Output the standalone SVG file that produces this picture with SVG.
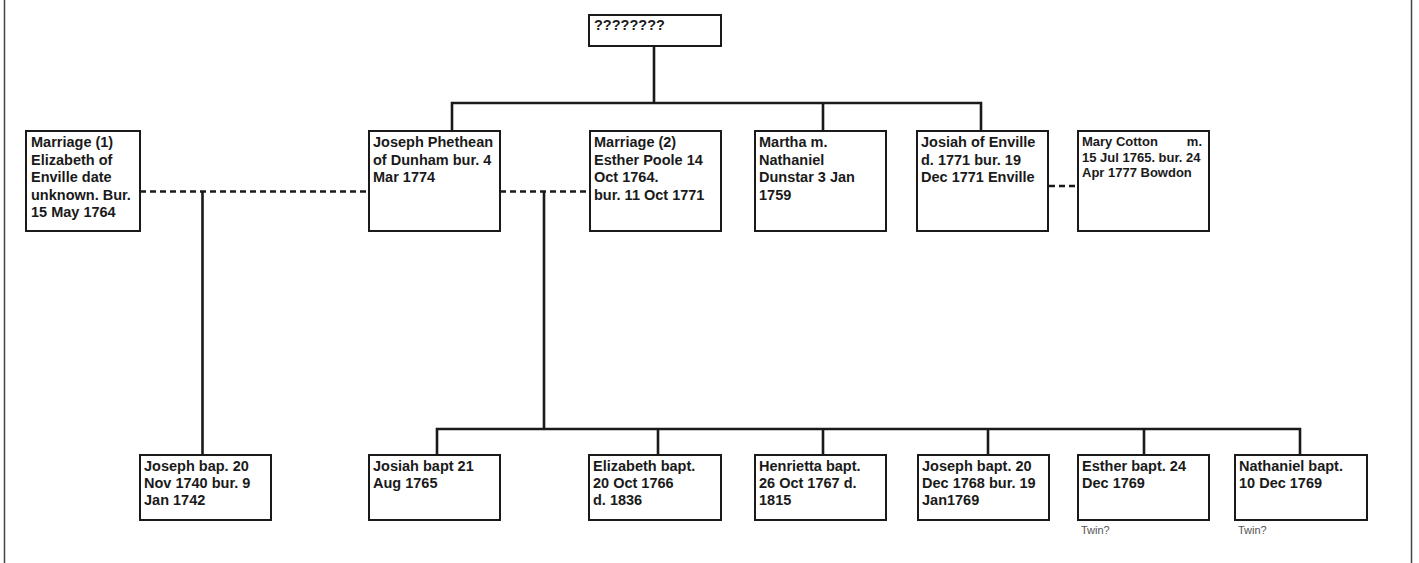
<svg xmlns="http://www.w3.org/2000/svg" width="1419" height="563" viewBox="0 0 1419 563">
<style>
.box{fill:#fff;stroke:#1a1a1a;stroke-width:2}
.t{font-family:"Liberation Sans",Arial,Helvetica,sans-serif;font-weight:bold;font-size:14.5px;fill:#1a1a1a}
.s{font-family:"Liberation Sans",Arial,Helvetica,sans-serif;font-weight:bold;font-size:13px;fill:#1a1a1a}
.tw{font-family:"Liberation Sans",Arial,Helvetica,sans-serif;font-size:11px;fill:#555}
.ln{stroke:#1a1a1a;stroke-width:2.6;fill:none}
.dash{stroke:#1a1a1a;stroke-width:2.6;fill:none;stroke-dasharray:6 4}
.frame{stroke:#444;stroke-width:1.5}
</style>
<rect width="1419" height="563" fill="#fff"/>
<line class="frame" x1="4.5" y1="0" x2="4.5" y2="563"/>
<line class="frame" x1="1411.5" y1="0" x2="1411.5" y2="563"/>
<g id="connectors">
<path class="ln" d="M654 46 V103 M452 131 V103 H981 V131 M823 103 V131"/>
<path class="dash" d="M140 191.5 H369 M500 191.5 H590 M1049 186 H1078"/>
<path class="ln" d="M202.5 191.5 V455 M544 191.5 V429 M437 455 V429 H1300 V455 M658 429 V455 M823 429 V455 M988 429 V455 M1144 429 V455"/>
</g>
<g id="n_root"><rect class="box" x="589" y="15" width="132" height="31"/><text class="t" x="594" y="30">????????</text></g>
<g id="n_m1"><rect class="box" x="26" y="131" width="114" height="100"/><text class="t" x="31" y="147">Marriage (1)<tspan x="31" dy="17.5">Elizabeth of</tspan><tspan x="31" dy="17.5">Enville date</tspan><tspan x="31" dy="17.5">unknown. Bur.</tspan><tspan x="31" dy="17.5">15 May 1764</tspan></text></g>
<g id="n_joseph"><rect class="box" x="369" y="131" width="131" height="100"/><text class="t" x="373" y="147">Joseph Phethean<tspan x="373" dy="17.5">of Dunham bur. 4</tspan><tspan x="373" dy="17.5">Mar 1774</tspan></text></g>
<g id="n_m2"><rect class="box" x="590" y="131" width="131" height="100"/><text class="t" x="594" y="147">Marriage (2)<tspan x="594" dy="17.5">Esther Poole 14</tspan><tspan x="594" dy="17.5">Oct 1764.</tspan><tspan x="594" dy="17.5">bur. 11 Oct 1771</tspan></text></g>
<g id="n_martha"><rect class="box" x="755" y="131" width="131" height="100"/><text class="t" x="759" y="147">Martha m.<tspan x="759" dy="17.5">Nathaniel</tspan><tspan x="759" dy="17.5">Dunstar 3 Jan</tspan><tspan x="759" dy="17.5">1759</tspan></text></g>
<g id="n_josiah"><rect class="box" x="917" y="131" width="131" height="100"/><text class="t" x="921" y="147">Josiah of Enville<tspan x="921" dy="17.5">d. 1771 bur. 19</tspan><tspan x="921" dy="17.5">Dec 1771 Enville</tspan></text></g>
<g id="n_mary"><rect class="box" x="1078" y="131" width="131" height="100"/><text class="s" x="1082" y="146">Mary Cotton</text><text class="s" x="1202" y="146" text-anchor="end">m.</text><text class="s" x="1082" y="161.5">15 Jul 1765. bur. 24<tspan x="1082" dy="15.5">Apr 1777 Bowdon</tspan></text></g>
<g id="n_c0"><rect class="box" x="140" y="455" width="131" height="65"/><text class="t" x="144" y="471">Joseph bap. 20<tspan x="144" dy="17">Nov 1740 bur. 9</tspan><tspan x="144" dy="17">Jan 1742</tspan></text></g>
<g id="n_c1"><rect class="box" x="369" y="455" width="131" height="65"/><text class="t" x="373" y="471">Josiah bapt 21<tspan x="373" dy="17">Aug 1765</tspan></text></g>
<g id="n_c2"><rect class="box" x="589" y="455" width="132" height="65"/><text class="t" x="593" y="471">Elizabeth bapt.<tspan x="593" dy="17">20 Oct 1766</tspan><tspan x="593" dy="17">d. 1836</tspan></text></g>
<g id="n_c3"><rect class="box" x="755" y="455" width="131" height="65"/><text class="t" x="759" y="471">Henrietta bapt.<tspan x="759" dy="17">26 Oct 1767 d.</tspan><tspan x="759" dy="17">1815</tspan></text></g>
<g id="n_c4"><rect class="box" x="918" y="455" width="131" height="65"/><text class="t" x="922" y="471">Joseph bapt. 20<tspan x="922" dy="17">Dec 1768 bur. 19</tspan><tspan x="922" dy="17">Jan1769</tspan></text></g>
<g id="n_c5"><rect class="box" x="1078" y="455" width="131" height="65"/><text class="t" x="1082" y="471">Esther bapt. 24<tspan x="1082" dy="17">Dec 1769</tspan></text><text class="tw" x="1081" y="534">Twin?</text></g>
<g id="n_c6"><rect class="box" x="1235" y="455" width="132" height="65"/><text class="t" x="1239" y="471">Nathaniel bapt.<tspan x="1239" dy="17">10 Dec 1769</tspan></text><text class="tw" x="1238" y="534">Twin?</text></g>
</svg>
